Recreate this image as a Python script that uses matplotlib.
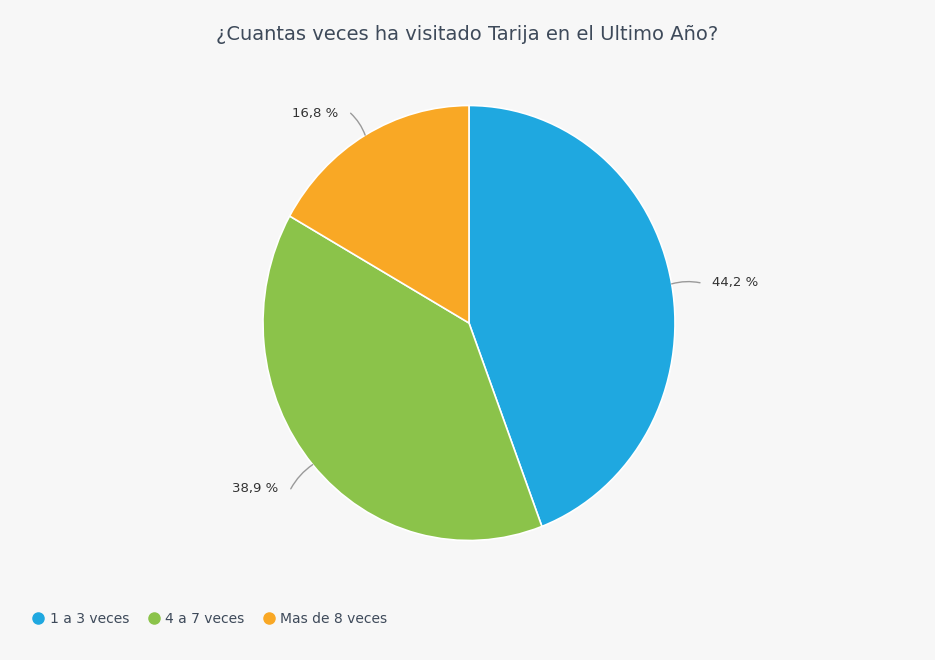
import numpy as np
import matplotlib.pyplot as plt
from matplotlib import font_manager
from matplotlib.lines import Line2D

categories = ['1 a 3 veces', '4 a 7 veces', 'Mas de 8 veces']
percentages = [44.2, 38.9, 16.8]
colors = ['#1fa8e0', '#8bc34a', '#f9a825']

TITLE = '¿Cuantas veces ha visitado Tarija en el Ultimo Año?'
BG = '#f7f7f7'

# narrow face for labels if one is available
installed = {f.name for f in font_manager.fontManager.ttflist}
narrow = [n for n in ['DejaVu Sans Condensed', 'Liberation Sans Narrow'] if n in installed]
FONTS = narrow[:1] + ['DejaVu Sans']
small_size = 10 if narrow else 9

W, H = 935, 660
fig = plt.figure(figsize=(W / 100, H / 100), dpi=100, facecolor=BG)
ax = fig.add_axes([0, 0, 1, 1])
ax.set_facecolor(BG)

# pie centre and radii in pixels (slightly taller than wide)
cx, cy = 469, 323
rx, ry = 206, 217.5

wedges, _ = ax.pie(percentages, colors=colors, startangle=90, counterclock=False,
                   wedgeprops=dict(edgecolor='white', linewidth=1.2))
ax.set_aspect('auto')
ax.set_xlim(-cx / rx, (W - cx) / rx)
ax.set_ylim(-(H - cy) / ry, cy / ry)
ax.axis('off')

# data labels with curved connectors
total = sum(percentages)
start = 90.0
for val in percentages:
    span = val / total * 360
    mid = np.deg2rad(start - span / 2)
    start -= span
    ex, ey = np.cos(mid), np.sin(mid)
    tx, ty = ex * 1.14, ey * 1.14 - 0.02
    side = 1 if ex >= 0 else -1
    ax.annotate('', xy=(ex, ey), xytext=(tx, ty), annotation_clip=False,
                arrowprops=dict(arrowstyle='-', color='#9a9a9a', lw=1,
                                connectionstyle='arc3,rad=%.2f' % (0.12 * side),
                                shrinkA=0, shrinkB=0))
    label = ('%.1f %%' % val).replace('.', ',')
    ax.text(tx + side * 0.06, ty, label, ha='left' if side > 0 else 'right',
            va='center', fontsize=9.5, color='#333333', family=FONTS)

fig.text(0.5, 1 - 35 / H, TITLE, ha='center', va='center', fontsize=14,
         color='#3e4a5a', family=['DejaVu Sans'])

handles = [Line2D([], [], marker='o', linestyle='', markersize=8, color=c)
           for c in colors]
fig.legend(handles, categories, loc='center left', bbox_to_anchor=(19 / W, 1 - 619 / H),
           ncol=3, frameon=False, handlelength=1.0, handletextpad=0.3,
           columnspacing=1.3, prop=dict(family=FONTS, size=small_size + 1),
           labelcolor='#3e4a5a')

fig.savefig('out.png', dpi=100, facecolor=BG)
